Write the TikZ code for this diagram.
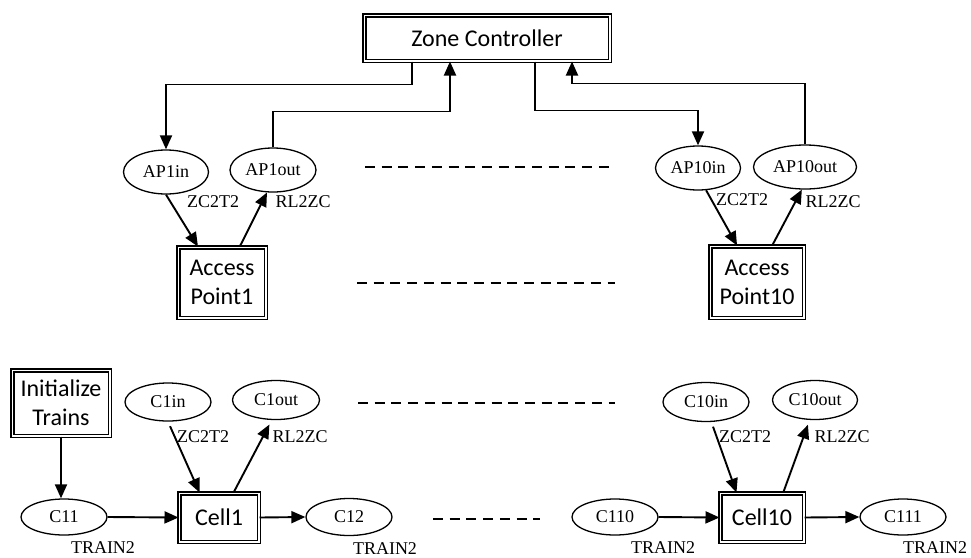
\documentclass[tikz,border=0pt]{standalone}
\usepackage{fontspec}
\setmainfont{Liberation Serif}
\newfontfamily\boxfont{Carlito}
\usetikzlibrary{arrows.meta,shapes.geometric,calc}
\begin{document}
\begin{tikzpicture}[x=1pt,y=-1pt,
  box/.style={draw, line width=1.5pt, double=white, double distance=1.5pt,
    font=\boxfont\fontsize{24}{29}\selectfont, align=center, inner sep=0pt},
  ell/.style={ellipse, draw, line width=1.3pt, inner sep=0pt,
    font=\fontsize{18}{20}\selectfont},
  lab/.style={font=\fontsize{18}{20}\selectfont, inner sep=0pt},
  arr/.style={line width=1.9pt, -{Triangle[length=14pt,width=12pt]}},
  dsh/.style={line width=2pt, dash pattern=on 10pt off 6.7pt}]
\useasboundingbox (0,0) rectangle (971,557);

% boxes
\node[box, minimum width=245.5pt, minimum height=45.5pt] (zc) at (487,38) {Zone Controller};
\node[box, minimum width=87.5pt, minimum height=70.5pt] (ap1) at (222,282.5) {Access\\Point1};
\node[box, minimum width=93.5pt, minimum height=71.5pt] (ap10) at (757,282) {Access\\Point10};
\node[box, minimum width=97.5pt, minimum height=65.5pt] (init) at (61,403) {Initialize\\Trains};
\node[box, minimum width=79.5pt, minimum height=48.5pt] (cell1) at (219,517.5) {Cell1};
\node[box, minimum width=83.5pt, minimum height=48.5pt] (cell10) at (762,517.5) {Cell10};

% ellipses
\node[ell, minimum width=85pt, minimum height=44pt] (ap1in) at (166,172) {AP1in};
\node[ell, minimum width=86pt, minimum height=44pt] (ap1out) at (273,170) {AP1out};
\node[ell, minimum width=85pt, minimum height=44pt] (ap10in) at (698,168) {AP10in};
\node[ell, minimum width=103pt, minimum height=44pt] (ap10out) at (805,167) {AP10out};
\node[ell, minimum width=86pt, minimum height=38pt] (c1in) at (168,402) {C1in};
\node[ell, minimum width=87pt, minimum height=39pt] (c1out) at (276,400) {C1out};
\node[ell, minimum width=86pt, minimum height=36pt] (c11) at (64,517) {C11};
\node[ell, minimum width=86pt, minimum height=37pt] (c12) at (349,517) {C12};
\node[ell, minimum width=86pt, minimum height=39pt] (c10in) at (706,402) {C10in};
\node[ell, minimum width=85pt, minimum height=39pt] (c10out) at (815,400) {C10out};
\node[ell, minimum width=86pt, minimum height=36pt] (c110) at (615,517) {C110};
\node[ell, minimum width=86pt, minimum height=36pt] (c111) at (903,517) {C111};

% labels
\node[lab] (l1) at (213,202) {ZC2T2};
\node[lab] (l2) at (303,202) {RL2ZC};
\node[lab] (l3) at (742,200) {ZC2T2};
\node[lab] (l4) at (833,202) {RL2ZC};
\node[lab] (l5) at (203,437) {ZC2T2};
\node[lab] (l6) at (300,437) {RL2ZC};
\node[lab] (l7) at (745,437) {ZC2T2};
\node[lab] (l8) at (842,437) {RL2ZC};
\node[lab] (t1) at (103,548) {TRAIN2};
\node[lab] (t2) at (385,549) {TRAIN2};
\node[lab] (t3) at (663,548) {TRAIN2};
\node[lab] (t4) at (935,548) {TRAIN2};

% zone controller connectors
\draw[arr] ([xshift=-75pt]zc.south) -- ++(0,23) -| (ap1in.north);
\draw[arr] (ap1out.north) |- ($(zc.south)+(-37,50)$) -- ([xshift=-37pt]zc.south);
\draw[arr] ([xshift=48pt]zc.south) -- ++(0,49) -| (ap10in.north);
\draw[arr] (ap10out.north) |- ($(zc.south)+(85,22)$) -- ([xshift=85pt]zc.south);

% access point connectors
\draw[arr] (ap1in.south) -- ($(ap1.north west)!0.23!(ap1.north east)$);
\draw[arr] ($(ap1.north west)!0.70!(ap1.north east)$) -- (ap1out.255);
\draw[arr] (ap10in.290) -- ($(ap10.north west)!0.29!(ap10.north east)$);
\draw[arr] ($(ap10.north west)!0.66!(ap10.north east)$) -- (ap10out.262);

% cell connectors
\draw[arr, shorten <=5pt] (c1in.south) -- ($(cell1.north west)!0.26!(cell1.north east)$);
\draw[arr, shorten >=5pt] ($(cell1.north west)!0.68!(cell1.north east)$) -- (c1out.258);
\draw[arr, shorten <=5pt] (c10in.285) -- ($(cell10.north west)!0.20!(cell10.north east)$);
\draw[arr, shorten >=5pt] ($(cell10.north west)!0.75!(cell10.north east)$) -- (c10out.255);

\draw[arr] (init.south) -- (init.south |- c11.north);
\draw[arr] (c11.east) -- (cell1.west);
\draw[arr] (cell1.east) -- (c12.west);
\draw[arr] (c110.east) -- (cell10.west);
\draw[arr] (cell10.east) -- (c111.west);

% dashed separators
\draw[dsh] (365,167) -- (615,167);
\draw[dsh] (357,283) -- (615,283);
\draw[dsh] (358,403) -- (615,403);
\draw[dsh] (433,519) -- (540,519);
\end{tikzpicture}
\end{document}
